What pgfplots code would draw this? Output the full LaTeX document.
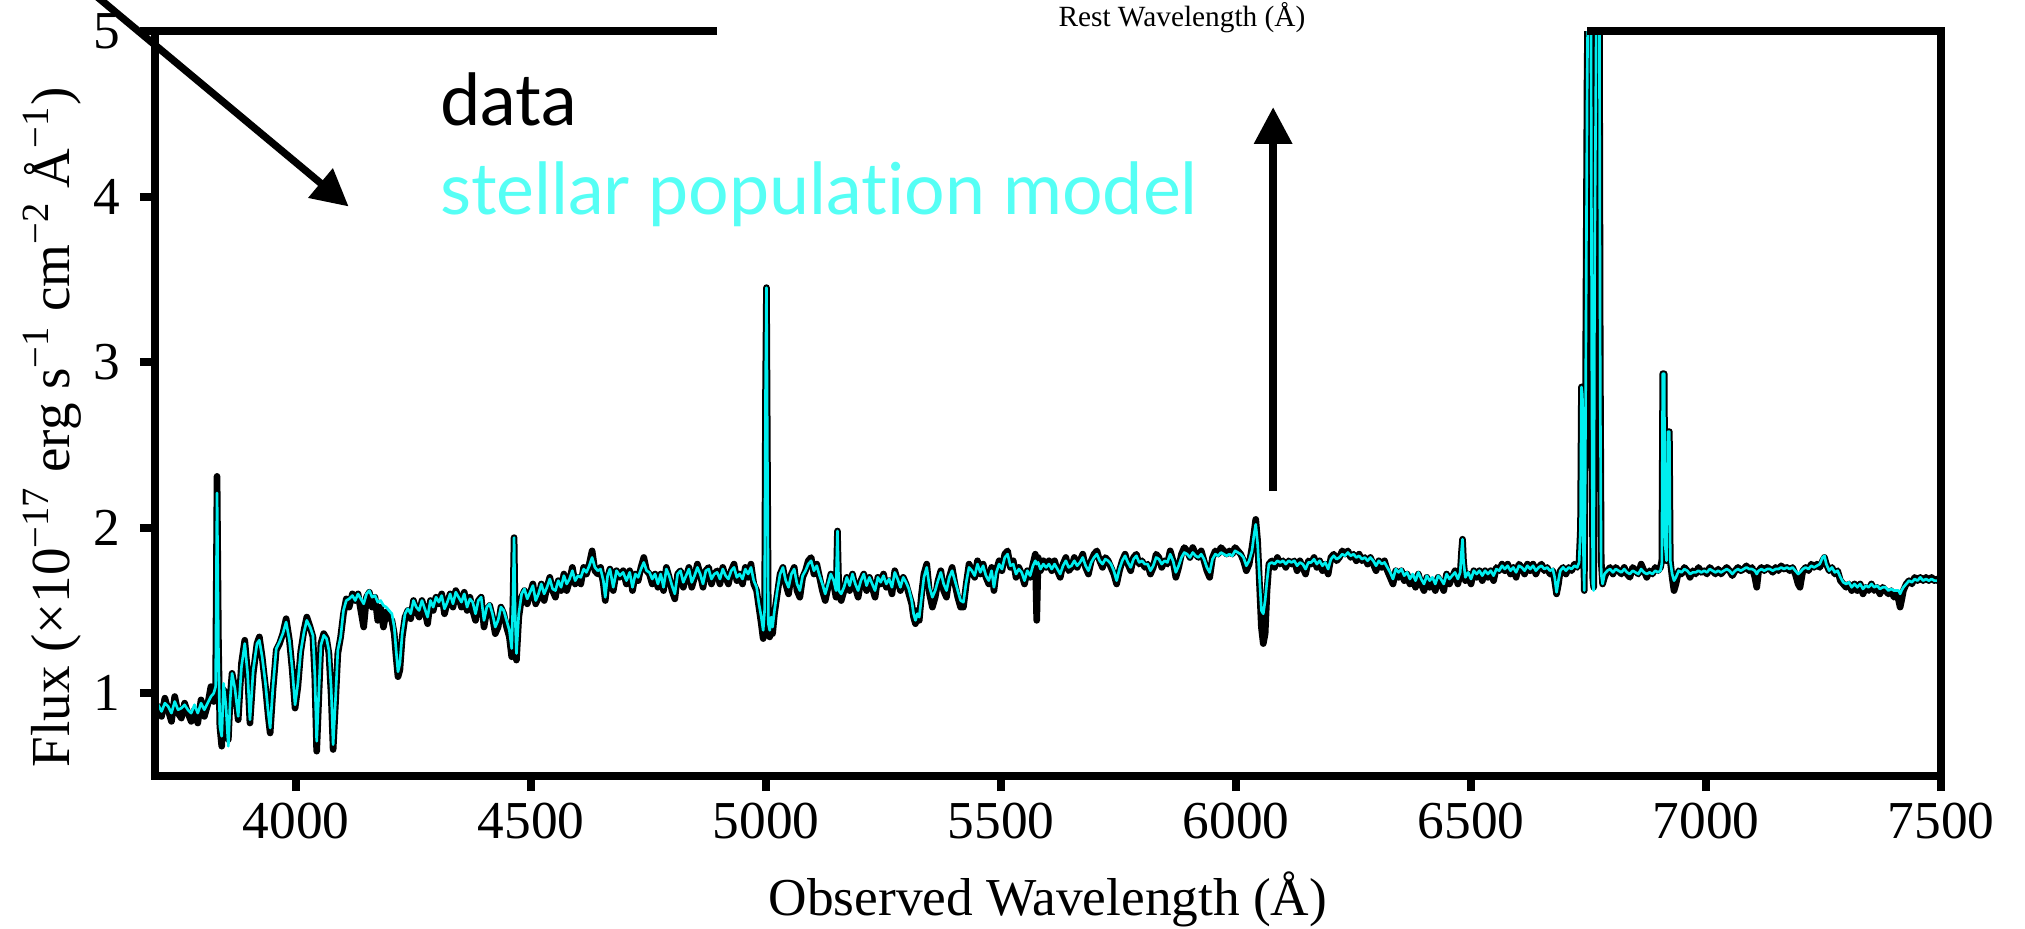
\documentclass[border=0pt]{standalone}
\usepackage{fontspec}
\setmainfont{Liberation Serif}
\newfontfamily\legfont[Ligatures={NoCommon,NoRare,NoContextual}]{Lato}
\usepackage{pgfplots}
\pgfplotsset{compat=1.18}
\usepackage{pgfplotstable}
\usetikzlibrary{arrows.meta}
\definecolor{modelc}{RGB}{0,238,238}
\definecolor{legcyan}{RGB}{85,255,245}

\pgfplotstableread{
lam data model
3700 0.84 0.90
3707 0.92 0.93
3714 0.86 0.89
3721 0.97 0.94
3728 0.90 0.92
3735 0.83 0.88
3742 0.98 0.95
3749 0.88 0.90
3756 0.85 0.91
3763 0.94 0.93
3770 0.88 0.90
3777 0.83 0.88
3784 0.90 0.93
3791 0.82 0.88
3798 0.96 0.94
3805 0.86 0.90
3812 0.93 0.94
3819 1.04 0.98
3825 0.95 1.00
3829 1.05 1.04
3832 2.31 2.21
3835 1.30 1.25
3838 0.80 0.80
3842 0.68 0.74
3846 1.02 1.06
3851 0.98 0.92
3856 0.72 0.68
3860 0.98 0.96
3864 1.12 1.12
3870 1.03 1.03
3877 0.84 0.86
3884 1.18 1.16
3891 1.32 1.30
3897 1.12 1.12
3902 0.82 0.84
3909 1.12 1.14
3917 1.30 1.30
3922 1.34 1.32
3928 1.22 1.22
3935 1.04 1.06
3941 0.86 0.88
3945 0.76 0.79
3951 1.02 1.04
3958 1.26 1.27
3965 1.30 1.31
3972 1.36 1.36
3979 1.45 1.43
3986 1.32 1.32
3992 1.14 1.15
3998 0.91 0.93
4004 1.04 1.06
4010 1.25 1.25
4017 1.38 1.37
4023 1.46 1.44
4030 1.40 1.40
4036 1.34 1.35
4040 1.10 1.12
4044 0.65 0.71
4048 0.94 0.97
4053 1.30 1.29
4059 1.36 1.35
4065 1.33 1.33
4070 1.24 1.26
4075 0.98 1.02
4079 0.66 0.69
4084 0.94 0.96
4089 1.24 1.26
4095 1.34 1.34
4101 1.48 1.50
4107 1.57 1.56
4113 1.52 1.57
4120 1.60 1.59
4126 1.56 1.56
4132 1.60 1.60
4138 1.50 1.57
4144 1.40 1.54
4150 1.58 1.60
4156 1.61 1.62
4162 1.52 1.58
4168 1.58 1.59
4174 1.44 1.55
4180 1.52 1.56
4186 1.40 1.53
4192 1.49 1.52
4198 1.46 1.50
4204 1.44 1.48
4209 1.36 1.40
4213 1.22 1.26
4217 1.10 1.13
4221 1.14 1.18
4226 1.34 1.36
4232 1.46 1.48
4238 1.50 1.51
4244 1.45 1.48
4250 1.56 1.56
4256 1.50 1.52
4262 1.46 1.50
4268 1.56 1.56
4274 1.50 1.51
4280 1.42 1.46
4286 1.56 1.56
4292 1.50 1.52
4298 1.58 1.58
4304 1.54 1.55
4310 1.60 1.59
4316 1.48 1.51
4322 1.55 1.55
4328 1.60 1.60
4334 1.52 1.54
4340 1.62 1.61
4346 1.58 1.58
4352 1.52 1.55
4358 1.61 1.60
4364 1.50 1.52
4370 1.58 1.57
4376 1.50 1.55
4382 1.44 1.48
4388 1.56 1.56
4394 1.58 1.58
4400 1.40 1.44
4406 1.50 1.52
4412 1.53 1.54
4418 1.46 1.48
4424 1.36 1.40
4430 1.40 1.44
4436 1.52 1.52
4442 1.48 1.50
4448 1.40 1.44
4454 1.34 1.38
4459 1.22 1.27
4462 1.60 1.60
4464 1.94 1.94
4466 1.50 1.50
4469 1.20 1.24
4474 1.46 1.48
4480 1.58 1.60
4486 1.62 1.63
4492 1.54 1.57
4498 1.60 1.61
4504 1.66 1.65
4510 1.54 1.56
4516 1.58 1.60
4522 1.66 1.66
4528 1.56 1.60
4534 1.64 1.64
4540 1.70 1.69
4546 1.62 1.63
4552 1.58 1.62
4558 1.68 1.68
4564 1.62 1.64
4570 1.72 1.71
4576 1.62 1.66
4582 1.68 1.69
4588 1.76 1.74
4594 1.66 1.68
4600 1.70 1.71
4606 1.66 1.70
4612 1.76 1.75
4618 1.72 1.73
4624 1.78 1.77
4630 1.86 1.82
4636 1.74 1.76
4642 1.72 1.74
4648 1.76 1.75
4654 1.66 1.68
4658 1.56 1.58
4663 1.70 1.71
4668 1.75 1.75
4675 1.62 1.64
4682 1.74 1.74
4689 1.70 1.71
4696 1.74 1.73
4703 1.66 1.68
4710 1.74 1.73
4716 1.62 1.64
4722 1.72 1.72
4728 1.68 1.70
4734 1.76 1.75
4740 1.82 1.79
4746 1.74 1.74
4752 1.72 1.73
4758 1.66 1.69
4764 1.72 1.72
4770 1.64 1.66
4776 1.72 1.72
4782 1.62 1.64
4788 1.76 1.75
4794 1.70 1.71
4800 1.62 1.65
4806 1.57 1.60
4812 1.72 1.72
4818 1.74 1.74
4824 1.64 1.67
4830 1.70 1.71
4836 1.76 1.75
4842 1.64 1.67
4848 1.70 1.71
4854 1.78 1.76
4860 1.72 1.72
4866 1.64 1.66
4872 1.74 1.74
4878 1.76 1.75
4884 1.66 1.69
4890 1.72 1.72
4896 1.74 1.73
4902 1.66 1.69
4908 1.76 1.75
4914 1.70 1.71
4920 1.66 1.69
4926 1.74 1.74
4932 1.78 1.76
4938 1.68 1.70
4944 1.72 1.72
4950 1.66 1.69
4956 1.76 1.75
4962 1.70 1.72
4968 1.78 1.76
4974 1.66 1.68
4980 1.62 1.64
4985 1.52 1.54
4990 1.42 1.46
4994 1.33 1.38
4997 1.45 1.50
4999 2.80 2.80
5001 3.45 3.45
5003 2.40 2.40
5005 1.40 1.42
5008 1.34 1.38
5011 1.44 1.46
5014 1.36 1.40
5018 1.48 1.50
5024 1.60 1.62
5030 1.72 1.72
5036 1.76 1.76
5042 1.66 1.68
5048 1.60 1.64
5054 1.72 1.72
5060 1.76 1.75
5066 1.62 1.66
5072 1.58 1.62
5078 1.70 1.71
5084 1.74 1.74
5090 1.80 1.78
5096 1.82 1.80
5102 1.72 1.74
5108 1.78 1.77
5114 1.70 1.71
5120 1.62 1.66
5126 1.56 1.60
5132 1.64 1.66
5138 1.72 1.72
5144 1.66 1.68
5149 1.58 1.62
5152 1.98 1.98
5155 1.60 1.62
5160 1.56 1.60
5166 1.62 1.64
5172 1.70 1.70
5178 1.62 1.65
5184 1.72 1.72
5190 1.64 1.66
5196 1.58 1.62
5202 1.68 1.68
5208 1.72 1.72
5214 1.62 1.65
5220 1.70 1.70
5226 1.64 1.66
5232 1.58 1.62
5238 1.70 1.70
5244 1.66 1.67
5250 1.72 1.71
5256 1.64 1.66
5262 1.68 1.69
5268 1.60 1.64
5274 1.74 1.73
5280 1.68 1.69
5286 1.62 1.64
5292 1.70 1.70
5298 1.66 1.67
5304 1.60 1.63
5310 1.54 1.56
5314 1.46 1.48
5318 1.42 1.44
5322 1.50 1.48
5326 1.44 1.46
5331 1.60 1.58
5336 1.72 1.70
5342 1.78 1.76
5348 1.60 1.64
5354 1.52 1.58
5360 1.58 1.62
5366 1.68 1.68
5372 1.74 1.73
5378 1.62 1.66
5384 1.58 1.62
5390 1.70 1.70
5396 1.76 1.74
5402 1.66 1.68
5408 1.58 1.62
5414 1.52 1.56
5420 1.52 1.55
5426 1.66 1.67
5432 1.78 1.76
5438 1.74 1.74
5444 1.70 1.71
5450 1.80 1.78
5456 1.72 1.73
5462 1.78 1.77
5468 1.70 1.71
5474 1.66 1.68
5480 1.76 1.74
5485 1.62 1.64
5490 1.74 1.73
5496 1.80 1.78
5502 1.74 1.75
5508 1.84 1.82
5514 1.86 1.84
5520 1.76 1.77
5526 1.80 1.78
5532 1.70 1.72
5538 1.76 1.75
5544 1.72 1.73
5550 1.66 1.68
5556 1.74 1.74
5562 1.70 1.71
5568 1.78 1.77
5573 1.84 1.80
5576 1.44 1.78
5579 1.82 1.79
5584 1.74 1.75
5590 1.80 1.78
5596 1.76 1.76
5602 1.80 1.78
5608 1.74 1.75
5614 1.80 1.78
5620 1.74 1.75
5626 1.70 1.72
5632 1.78 1.77
5638 1.82 1.80
5644 1.74 1.76
5650 1.76 1.77
5656 1.82 1.80
5662 1.76 1.77
5668 1.80 1.79
5674 1.84 1.82
5680 1.76 1.77
5686 1.72 1.74
5692 1.80 1.79
5698 1.84 1.82
5704 1.86 1.84
5710 1.80 1.80
5716 1.76 1.78
5722 1.82 1.81
5728 1.80 1.80
5734 1.76 1.78
5740 1.72 1.74
5746 1.66 1.68
5752 1.74 1.75
5758 1.80 1.80
5764 1.84 1.83
5770 1.78 1.79
5776 1.74 1.76
5782 1.82 1.81
5788 1.84 1.83
5794 1.78 1.79
5800 1.80 1.80
5806 1.76 1.78
5812 1.78 1.78
5818 1.72 1.74
5824 1.76 1.77
5830 1.84 1.82
5836 1.82 1.81
5842 1.76 1.78
5848 1.80 1.80
5854 1.78 1.79
5860 1.86 1.84
5866 1.80 1.80
5872 1.70 1.73
5878 1.76 1.77
5884 1.84 1.82
5890 1.88 1.85
5896 1.86 1.84
5902 1.82 1.82
5908 1.88 1.85
5914 1.84 1.83
5920 1.82 1.82
5926 1.86 1.84
5932 1.80 1.81
5938 1.74 1.76
5944 1.70 1.73
5950 1.82 1.81
5956 1.86 1.84
5962 1.84 1.83
5968 1.88 1.85
5974 1.86 1.84
5980 1.84 1.83
5986 1.86 1.84
5992 1.84 1.83
5998 1.88 1.86
6004 1.86 1.85
6010 1.84 1.84
6016 1.80 1.82
6022 1.74 1.77
6028 1.78 1.80
6034 1.88 1.86
6038 1.96 1.95
6042 2.05 2.02
6046 1.92 1.90
6050 1.66 1.70
6054 1.40 1.50
6058 1.30 1.48
6062 1.36 1.56
6066 1.62 1.68
6070 1.78 1.78
6076 1.80 1.79
6082 1.76 1.78
6088 1.82 1.80
6094 1.78 1.79
6100 1.80 1.80
6106 1.76 1.78
6112 1.80 1.80
6118 1.78 1.79
6124 1.80 1.80
6130 1.74 1.77
6136 1.80 1.79
6142 1.76 1.78
6148 1.72 1.75
6154 1.80 1.79
6160 1.78 1.79
6166 1.82 1.81
6172 1.76 1.78
6178 1.80 1.80
6184 1.74 1.77
6190 1.78 1.79
6196 1.72 1.75
6202 1.82 1.81
6208 1.84 1.83
6214 1.80 1.81
6220 1.82 1.82
6226 1.86 1.84
6232 1.84 1.83
6238 1.86 1.85
6244 1.82 1.83
6250 1.84 1.84
6256 1.80 1.82
6262 1.84 1.83
6268 1.80 1.81
6274 1.82 1.82
6280 1.78 1.80
6286 1.82 1.82
6292 1.78 1.80
6298 1.74 1.77
6304 1.80 1.80
6310 1.76 1.78
6316 1.80 1.79
6322 1.74 1.76
6328 1.70 1.73
6334 1.66 1.69
6340 1.74 1.75
6346 1.70 1.73
6352 1.74 1.75
6358 1.68 1.71
6364 1.72 1.73
6370 1.66 1.69
6376 1.70 1.72
6382 1.64 1.68
6388 1.72 1.73
6394 1.66 1.69
6400 1.62 1.66
6406 1.70 1.71
6412 1.64 1.68
6418 1.68 1.70
6424 1.62 1.66
6430 1.70 1.71
6436 1.66 1.69
6442 1.62 1.66
6448 1.72 1.72
6454 1.66 1.69
6460 1.70 1.71
6466 1.74 1.73
6472 1.66 1.69
6477 1.72 1.73
6480 1.86 1.86
6482 1.93 1.93
6484 1.80 1.80
6488 1.68 1.70
6494 1.72 1.73
6500 1.66 1.69
6506 1.74 1.74
6512 1.70 1.72
6518 1.74 1.74
6524 1.68 1.71
6530 1.74 1.74
6536 1.70 1.72
6542 1.74 1.74
6548 1.68 1.71
6554 1.76 1.75
6560 1.74 1.74
6566 1.78 1.77
6572 1.74 1.75
6578 1.78 1.77
6584 1.72 1.74
6590 1.76 1.76
6596 1.70 1.73
6602 1.78 1.77
6608 1.76 1.76
6614 1.72 1.74
6620 1.78 1.77
6626 1.74 1.75
6632 1.78 1.77
6638 1.72 1.74
6644 1.76 1.76
6650 1.78 1.77
6656 1.74 1.75
6662 1.76 1.76
6668 1.72 1.74
6674 1.74 1.75
6678 1.68 1.70
6682 1.60 1.61
6686 1.66 1.68
6690 1.74 1.74
6696 1.76 1.76
6702 1.72 1.74
6708 1.76 1.76
6714 1.74 1.75
6720 1.78 1.77
6726 1.76 1.76
6730 1.80 1.79
6733 2.00 2.00
6735 2.85 2.85
6737 2.85 2.80
6739 2.00 1.90
6741 1.62 1.62
6743 2.40 2.30
6745 3.60 3.40
6747 4.72 4.60
6749 5.30 5.30
6752 5.30 5.30
6755 5.30 5.30
6757 3.20 3.00
6759 1.70 1.66
6761 1.64 1.62
6763 3.90 3.60
6765 4.60 4.40
6767 5.30 5.30
6770 5.30 5.30
6773 5.30 5.30
6775 3.00 2.80
6777 1.80 1.72
6780 1.66 1.66
6784 1.70 1.72
6790 1.74 1.74
6796 1.76 1.75
6802 1.72 1.73
6808 1.76 1.75
6814 1.74 1.74
6820 1.72 1.73
6826 1.76 1.75
6832 1.72 1.73
6838 1.70 1.72
6844 1.76 1.74
6850 1.74 1.73
6856 1.72 1.72
6862 1.78 1.75
6868 1.74 1.73
6874 1.70 1.72
6880 1.74 1.73
6886 1.72 1.72
6892 1.76 1.74
6898 1.74 1.73
6903 1.76 1.74
6906 1.80 1.78
6908 2.93 2.93
6911 2.93 2.93
6913 1.90 1.90
6916 1.80 1.80
6919 2.58 2.58
6922 2.58 2.58
6924 1.80 1.80
6928 1.70 1.72
6932 1.62 1.68
6936 1.66 1.70
6942 1.74 1.74
6948 1.72 1.73
6954 1.76 1.75
6960 1.74 1.74
6966 1.70 1.72
6972 1.74 1.73
6978 1.72 1.73
6984 1.76 1.74
6990 1.73 1.73
6996 1.74 1.74
7002 1.72 1.73
7008 1.76 1.75
7014 1.74 1.74
7020 1.72 1.73
7026 1.75 1.74
7032 1.72 1.73
7038 1.74 1.74
7044 1.76 1.75
7050 1.74 1.74
7056 1.71 1.72
7062 1.74 1.74
7068 1.76 1.75
7074 1.74 1.74
7080 1.75 1.75
7086 1.77 1.76
7092 1.74 1.75
7098 1.76 1.75
7104 1.70 1.74
7108 1.64 1.72
7112 1.74 1.74
7118 1.76 1.75
7124 1.74 1.74
7130 1.76 1.75
7136 1.75 1.75
7142 1.73 1.74
7148 1.76 1.75
7154 1.74 1.75
7160 1.77 1.76
7166 1.75 1.75
7172 1.76 1.76
7178 1.74 1.75
7184 1.76 1.76
7190 1.72 1.74
7196 1.66 1.72
7200 1.64 1.73
7206 1.74 1.75
7212 1.76 1.76
7218 1.74 1.75
7224 1.78 1.77
7230 1.76 1.76
7236 1.78 1.77
7242 1.76 1.78
7248 1.80 1.82
7252 1.82 1.83
7256 1.78 1.78
7262 1.74 1.74
7268 1.76 1.76
7274 1.72 1.73
7280 1.74 1.74
7286 1.68 1.70
7292 1.66 1.67
7298 1.64 1.66
7304 1.66 1.67
7310 1.62 1.64
7316 1.66 1.66
7322 1.62 1.64
7328 1.66 1.66
7334 1.60 1.63
7340 1.64 1.65
7346 1.62 1.64
7352 1.66 1.66
7358 1.62 1.64
7364 1.64 1.65
7370 1.60 1.63
7376 1.64 1.64
7382 1.62 1.64
7388 1.60 1.62
7394 1.62 1.63
7400 1.58 1.62
7406 1.60 1.62
7410 1.56 1.62
7413 1.52 1.60
7416 1.56 1.62
7420 1.62 1.64
7426 1.66 1.66
7432 1.68 1.68
7438 1.66 1.67
7444 1.70 1.69
7450 1.68 1.68
7456 1.70 1.70
7462 1.68 1.68
7468 1.70 1.69
7474 1.68 1.68
7480 1.70 1.69
7486 1.68 1.68
7492 1.69 1.68
7500 1.66 1.66
}\spec

\begin{document}
\begin{tikzpicture}
\begin{axis}[
  width=535.8pt, height=223.5pt, scale only axis,
  xmin=3700, xmax=7500, ymin=0.5, ymax=5,
  xtick={4000,4500,5000,5500,6000,6500,7000,7500},
  ytick={1,2,3,4,5},
  minor tick num=0,
  tick pos=left, tick align=outside,
  major tick length=4.5pt,
  every tick/.style={black, line width=2.4pt},
  axis line style={draw=none},
  ticklabel style={font=\fontsize{16}{16}\selectfont},
  y tick label style={xshift=-2.3pt},
  /pgf/number format/assume math mode=true,
  x tick label style={/pgf/number format/1000 sep=},
  xlabel={Observed Wavelength (Å)},
  ylabel={Flux (×10\textsuperscript{−17} erg s\textsuperscript{−1} cm\textsuperscript{−2} Å\textsuperscript{−1})},
  xlabel style={font=\fontsize{16}{16}\selectfont, at={(axis description cs:0.5,0)}, anchor=center, yshift=-37pt},
  ylabel style={font=\fontsize{16.5}{16.5}\selectfont, at={(axis description cs:-0.0578,-0.004)}, anchor=west},
  clip mode=individual,
]
\addplot[black, line width=2.0pt, line join=round] table[x=lam, y=data] {\spec};
\addplot[modelc, line width=0.8pt, line join=round] table[x=lam, y=model] {\spec};

\draw[line width=2.4pt] (axis cs:4896,5) -- (rel axis cs:0,1) -- (rel axis cs:0,0) -- (rel axis cs:1,0) -- (rel axis cs:1,1) -- (axis cs:6747,5);

\draw[line width=2.2pt, -{Triangle[length=11pt, width=11pt]}] (axis cs:3508,5.37) -- (axis cs:4112,3.94);
\draw[line width=2.2pt, -{Triangle[length=11pt, width=11pt]}] (axis cs:6079,2.22) -- (axis cs:6079,4.54);

\node[font=\fontsize{8.8}{8.8}\selectfont] at (axis cs:5885,5.08) {Rest Wavelength (Å)};

\node[anchor=base west, inner sep=0pt, font=\legfont\fontsize{21.5}{21.5}\selectfont] at (axis cs:4305,4.43) {data};
\node[anchor=base west, inner sep=0pt, text=legcyan, font=\legfont\fontsize{21.5}{21.5}\selectfont] at (axis cs:4305,3.89) {stellar population model};
\end{axis}
\pgfresetboundingbox
\useasboundingbox (-46.5pt,-45.6pt) rectangle (561pt,232.8pt);
\end{tikzpicture}
\end{document}
